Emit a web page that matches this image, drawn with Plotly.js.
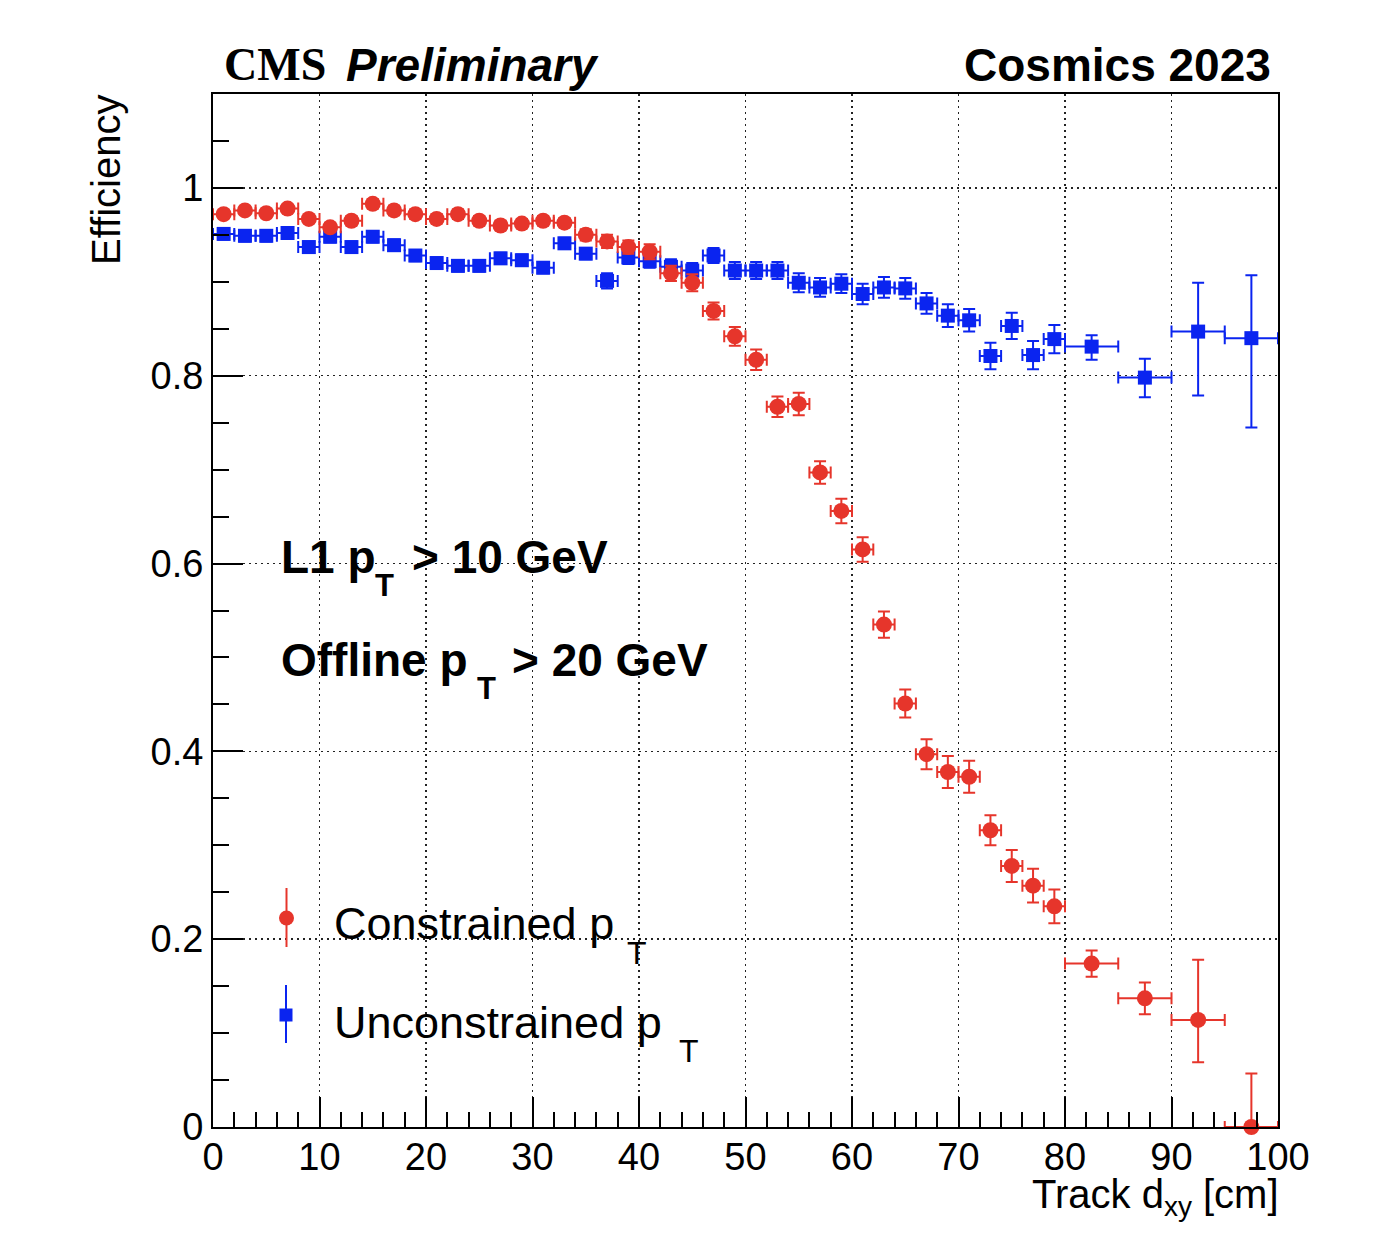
<!DOCTYPE html>
<html>
<head>
<meta charset="utf-8">
<script src="https://cdn.plot.ly/plotly-3.0.1.min.js"></script>
<style>body{margin:0;background:#fff}</style>
</head>
<body>
<div id="plot" style="width:1388px;height:1248px"></div>
<script>
// bins in track dxy [cm]: 2 cm wide up to 80, then 5 cm wide
const binCenters = [1, 3, 5, 7, 9, 11, 13, 15, 17, 19, 21, 23, 25, 27, 29, 31, 33, 35, 37, 39,
  41, 43, 45, 47, 49, 51, 53, 55, 57, 59, 61, 63, 65, 67, 69, 71, 73, 75, 77, 79,
  82.5, 87.5, 92.5, 97.5];
const binHalfWidths = [1, 1, 1, 1, 1, 1, 1, 1, 1, 1, 1, 1, 1, 1, 1, 1, 1, 1, 1, 1,
  1, 1, 1, 1, 1, 1, 1, 1, 1, 1, 1, 1, 1, 1, 1, 1, 1, 1, 1, 1,
  2.5, 2.5, 2.5, 2.5];

const constrainedEff = [0.972, 0.976, 0.973, 0.978, 0.967, 0.958, 0.965, 0.983, 0.976, 0.972,
  0.967, 0.972, 0.965, 0.960, 0.962, 0.965, 0.963, 0.950, 0.943, 0.937,
  0.932, 0.909, 0.899, 0.869, 0.842, 0.817, 0.767, 0.770, 0.697, 0.656,
  0.615, 0.535, 0.451, 0.397, 0.378, 0.373, 0.316, 0.278, 0.257, 0.235,
  0.174, 0.137, 0.114, 0.000];
const constrainedErrUp = [0.004, 0.004, 0.004, 0.004, 0.004, 0.005, 0.005, 0.005, 0.005, 0.005,
  0.005, 0.005, 0.005, 0.005, 0.005, 0.005, 0.005, 0.006, 0.007, 0.007,
  0.008, 0.008, 0.009, 0.009, 0.010, 0.011, 0.011, 0.012, 0.012, 0.013,
  0.013, 0.014, 0.015, 0.016, 0.017, 0.017, 0.016, 0.017, 0.018, 0.018,
  0.014, 0.017, 0.064, 0.057];
const constrainedErrDown = [0.004, 0.004, 0.004, 0.004, 0.004, 0.005, 0.005, 0.005, 0.005, 0.005,
  0.005, 0.005, 0.005, 0.005, 0.005, 0.005, 0.005, 0.006, 0.007, 0.007,
  0.008, 0.008, 0.009, 0.009, 0.010, 0.011, 0.011, 0.012, 0.012, 0.013,
  0.013, 0.014, 0.015, 0.016, 0.017, 0.017, 0.016, 0.017, 0.018, 0.018,
  0.014, 0.017, 0.045, 0.000];

const unconstrainedEff = [0.951, 0.949, 0.949, 0.952, 0.937, 0.948, 0.937, 0.948, 0.939, 0.928,
  0.920, 0.917, 0.917, 0.925, 0.923, 0.915, 0.941, 0.930, 0.901, 0.926,
  0.922, 0.916, 0.912, 0.928, 0.912, 0.912, 0.912, 0.899, 0.894, 0.898,
  0.887, 0.894, 0.893, 0.877, 0.864, 0.859, 0.821, 0.853, 0.822, 0.839,
  0.831, 0.798, 0.847, 0.840];
const unconstrainedErrUp = [0.006, 0.006, 0.006, 0.006, 0.006, 0.006, 0.006, 0.006, 0.006, 0.006,
  0.006, 0.006, 0.006, 0.006, 0.006, 0.006, 0.006, 0.006, 0.008, 0.007,
  0.007, 0.008, 0.008, 0.008, 0.009, 0.009, 0.009, 0.010, 0.010, 0.010,
  0.011, 0.011, 0.011, 0.011, 0.012, 0.012, 0.014, 0.014, 0.015, 0.015,
  0.012, 0.020, 0.052, 0.067];
const unconstrainedErrDown = [0.006, 0.006, 0.006, 0.006, 0.006, 0.006, 0.006, 0.006, 0.006, 0.006,
  0.006, 0.006, 0.006, 0.006, 0.006, 0.006, 0.006, 0.006, 0.008, 0.007,
  0.007, 0.008, 0.008, 0.008, 0.009, 0.009, 0.009, 0.010, 0.010, 0.010,
  0.011, 0.011, 0.011, 0.011, 0.012, 0.012, 0.014, 0.014, 0.015, 0.015,
  0.014, 0.021, 0.068, 0.095];

const RED = "#e6352b";
const BLUE = "#0a24f0";
const SANS = "Liberation Sans, Arial, Helvetica, sans-serif";
const SERIF = "Liberation Serif, Times New Roman, serif";

const W = 1388, H = 1248;
const M = { l: 213, r: 110, t: 94, b: 121 };
const px2x = px => (px - M.l) / (W - M.l - M.r);
const px2y = py => (H - M.b - py) / (H - M.t - M.b);

// text placed by its left (or right) edge and baseline in page pixels
function label(text, edge, baseline, size, font, anchor) {
  const right = anchor === "right";
  return {
    text,
    xref: "paper",
    yref: "paper",
    x: px2x(right ? edge + 3 : edge - 3),
    y: px2y(baseline - 0.905 * size - 1),
    xanchor: right ? "right" : "left",
    yanchor: "top",
    showarrow: false,
    font: Object.assign({ family: SANS, size, color: "#000" }, font || {})
  };
}

function effTrace(y, up, down, color, symbol, size) {
  return {
    type: "scatter",
    mode: "markers",
    x: binCenters,
    y,
    marker: { symbol, size, color, line: { width: 0 } },
    error_x: { type: "data", array: binHalfWidths, color, thickness: 2, width: 6 },
    error_y: {
      type: "data",
      symmetric: false,
      array: up,
      arrayminus: down,
      color,
      thickness: 2,
      width: 6
    },
    cliponaxis: false,
    hoverinfo: "skip",
    showlegend: false
  };
}

const bold = { weight: "bold" };

const annotations = [
  label("CMS", 225, 80, 46, { family: SERIF, weight: "bold" }),
  label("Preliminary", 347, 80, 46, { weight: "bold", style: "italic" }),
  label("Cosmics 2023", 1270, 80, 46, bold, "right"),

  label("L1 p", 282, 572, 46, bold),
  label("T", 376, 595, 31, bold),
  label("> 10 GeV", 413, 572, 46, bold),
  label("Offline p", 282, 675, 46, bold),
  label("T", 478, 698, 31, bold),
  label("> 20 GeV", 513, 675, 46, bold),

  label("Constrained p", 335, 938, 45),
  label("T", 628, 963, 32),
  label("Unconstrained p", 335, 1037, 45),
  label("T", 680, 1061, 32),

  label("Track d<sub>xy</sub> [cm]", 1278, 1207, 40, null, "right"),
  {
    text: "Efficiency",
    xref: "paper",
    yref: "paper",
    x: px2x(106),
    y: px2y(93),
    xanchor: "center",
    yanchor: "top",
    textangle: -90,
    showarrow: false,
    font: { family: SANS, size: 40, color: "#000" }
  }
];

// legend glyphs: marker with a vertical error bar
function legendGlyph(cx, cy, top, bottom, color, kind, half) {
  return [
    {
      type: "line", xref: "paper", yref: "paper",
      x0: px2x(cx), x1: px2x(cx), y0: px2y(bottom), y1: px2y(top),
      line: { color, width: 2 }
    },
    {
      type: kind, xref: "paper", yref: "paper",
      xsizemode: "pixel", ysizemode: "pixel",
      xanchor: px2x(cx), yanchor: px2y(cy),
      x0: -half, x1: half, y0: -half, y1: half,
      fillcolor: color, line: { width: 0 }
    }
  ];
}

const shapes = [
  ...legendGlyph(286.5, 918, 888, 947, RED, "circle", 7.5),
  ...legendGlyph(286, 1015, 985, 1043, BLUE, "rect", 6.5)
];

const axisCommon = {
  ticks: "inside",
  ticklen: 30,
  tickwidth: 2,
  tickcolor: "#000",
  showline: true,
  linewidth: 2,
  linecolor: "#000",
  mirror: true,
  zeroline: false,
  showgrid: true,
  gridcolor: "#222",
  gridwidth: 1.5,
  griddash: "2px,4px",
  tickfont: { family: SANS, size: 38, color: "#000" },
  fixedrange: true
};

const layout = {
  width: W,
  height: H,
  margin: M,
  paper_bgcolor: "#fff",
  plot_bgcolor: "#fff",
  showlegend: false,
  xaxis: Object.assign({}, axisCommon, {
    range: [0, 100],
    tick0: 0,
    dtick: 10,
    ticklabelstandoff: -5,
    minor: { dtick: 2, ticks: "inside", ticklen: 15, tickwidth: 2, tickcolor: "#000", showgrid: false }
  }),
  yaxis: Object.assign({}, axisCommon, {
    range: [0, 1.1],
    tick0: 0,
    dtick: 0.2,
    minor: { dtick: 0.05, ticks: "inside", ticklen: 16, tickwidth: 2, tickcolor: "#000", showgrid: false }
  }),
  annotations,
  shapes
};

const traces = [
  effTrace(unconstrainedEff, unconstrainedErrUp, unconstrainedErrDown, BLUE, "square", 14),
  effTrace(constrainedEff, constrainedErrUp, constrainedErrDown, RED, "circle", 16)
];

Plotly.newPlot("plot", traces, layout, { staticPlot: true, displayModeBar: false });
</script>
</body>
</html>
